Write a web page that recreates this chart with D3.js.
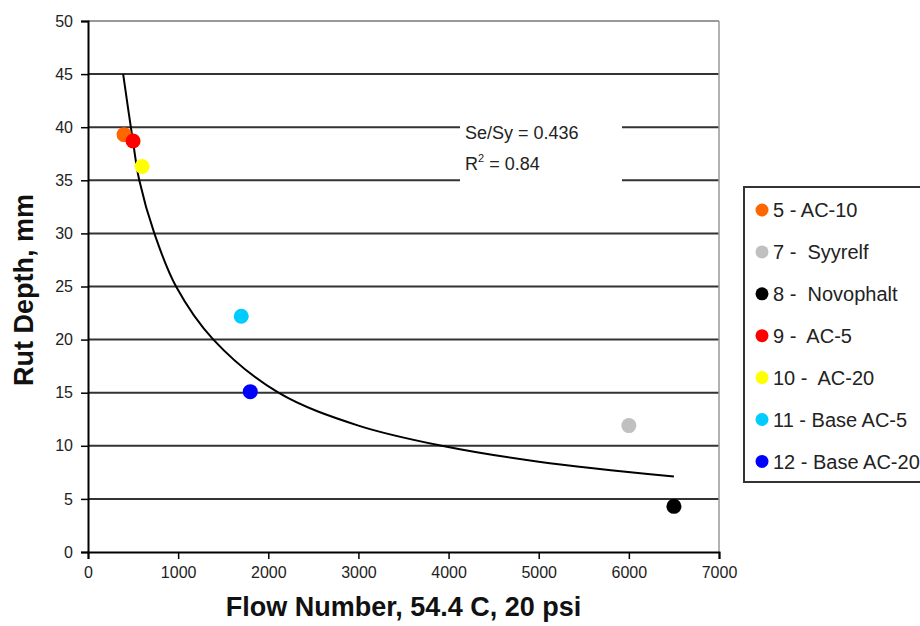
<!DOCTYPE html>
<html><head><meta charset="utf-8">
<script src="https://cdn.jsdelivr.net/npm/d3@7"></script>
<style>body{margin:0;background:#fff}svg{display:block}text{font-family:"Liberation Sans",Arial,sans-serif}</style>
</head><body><svg id="c" width="920" height="626"></svg>
<script>
// Data
const mixes = ["5 - AC-10","7 -  Syyrelf","8 -  Novophalt","9 -  AC-5","10 -  AC-20","11 - Base AC-5","12 - Base AC-20"];
const flowNumber = [400, 6000, 6500, 500, 600, 1700, 1800];
const rutDepth = [39.3, 11.9, 4.3, 38.7, 36.3, 22.2, 15.1];
const colors = ["#FF6600","#C0C0C0","#000000","#FF0000","#FFFF00","#00CCFF","#0000FF"];
// Trend line
const trendX = [390, 500, 569, 736, 977, 1391, 2113, 3000, 3925, 5000, 6500];
const trendY = [45, 38.6, 35, 30, 25, 20, 15, 11.9, 10, 8.5, 7.1];
const xTicks = [0,1000,2000,3000,4000,5000,6000,7000];
const yTicks = [0,5,10,15,20,25,30,35,40,45,50];

const svg = d3.select("#c");
const L=88, R=719, T=21, B=552;
const x = d3.scaleLinear().domain([0,7000]).range([L,R]);
const y = d3.scaleLinear().domain([0,50]).range([B,T]);

// gridlines
svg.append("g").selectAll("line").data(yTicks.filter(d=>d>0 && d<50)).join("line")
  .attr("x1",L).attr("x2",R).attr("y1",d=>y(d)).attr("y2",d=>y(d))
  .attr("stroke","#333").attr("stroke-width",2);
// top and right border
svg.append("line").attr("x1",L).attr("x2",R).attr("y1",y(50)).attr("y2",y(50)).attr("stroke","#999").attr("stroke-width",2);
svg.append("line").attr("x1",R).attr("x2",R).attr("y1",T).attr("y2",B).attr("stroke","#999").attr("stroke-width",1.5);

// annotation box covering gridlines
svg.append("rect").attr("x",460).attr("y",112).attr("width",162).attr("height",75).attr("fill","#fff");
const ann = svg.append("text").attr("x",465).attr("y",139).attr("font-size",18).attr("fill","#222");
ann.text("Se/Sy = 0.436");
const ann2 = svg.append("text").attr("x",465).attr("y",170).attr("font-size",18).attr("fill","#222");
ann2.append("tspan").text("R");
ann2.append("tspan").attr("font-size",11).attr("dy",-8).text("2");
ann2.append("tspan").attr("dy",8).text(" = 0.84");

// axes
const xa = svg.append("g").attr("transform",`translate(0,${B})`)
  .call(d3.axisBottom(x).tickValues(xTicks).tickSize(7).tickPadding(8).tickFormat(d3.format("d")));
const ya = svg.append("g").attr("transform",`translate(${L},0)`)
  .call(d3.axisLeft(y).tickValues(yTicks).tickSize(7).tickPadding(8));
[xa,ya].forEach(a=>{
  a.select(".domain").attr("stroke","#000").attr("stroke-width",2);
  a.selectAll(".tick line").attr("stroke","#000").attr("stroke-width",1.5);
  a.selectAll("text").attr("font-size",16).attr("fill","#222").attr("font-family","Liberation Sans, Arial, sans-serif");
});

// trend line
svg.append("path").datum(trendX.map((d,i)=>[d,trendY[i]]))
  .attr("d", d3.line().x(d=>x(d[0])).y(d=>y(d[1])).curve(d3.curveCatmullRom.alpha(0.5)))
  .attr("fill","none").attr("stroke","#000").attr("stroke-width",2);

// points
svg.append("g").selectAll("circle").data(mixes.map((m,i)=>i)).join("circle")
  .attr("cx",i=>x(flowNumber[i])).attr("cy",i=>y(rutDepth[i])).attr("r",7.5)
  .attr("fill",i=>colors[i]);

// axis titles
svg.append("text").attr("x",(L+R)/2).attr("y",616).attr("text-anchor","middle")
  .attr("font-size",27).attr("font-weight","bold").attr("fill","#111").text("Flow Number, 54.4 C, 20 psi");
svg.append("text").attr("transform","translate(33,290) rotate(-90)").attr("text-anchor","middle")
  .attr("font-size",27).attr("font-weight","bold").attr("fill","#111").text("Rut Depth, mm");

// legend
const lg = svg.append("g");
lg.append("rect").attr("x",744).attr("y",187).attr("width",200).attr("height",295)
  .attr("fill","#fff").attr("stroke","#333").attr("stroke-width",2);
const items = lg.selectAll("g.it").data(mixes).join("g").attr("class","it")
  .attr("transform",(d,i)=>`translate(762,${210+i*41.9})`);
items.append("circle").attr("r",6.5).attr("fill",(d,i)=>colors[i]);
items.append("text").attr("x",11).attr("dy","0.36em").attr("font-size",20).attr("fill","#222")
  .style("white-space","pre").text(d=>d);
</script></body></html>
